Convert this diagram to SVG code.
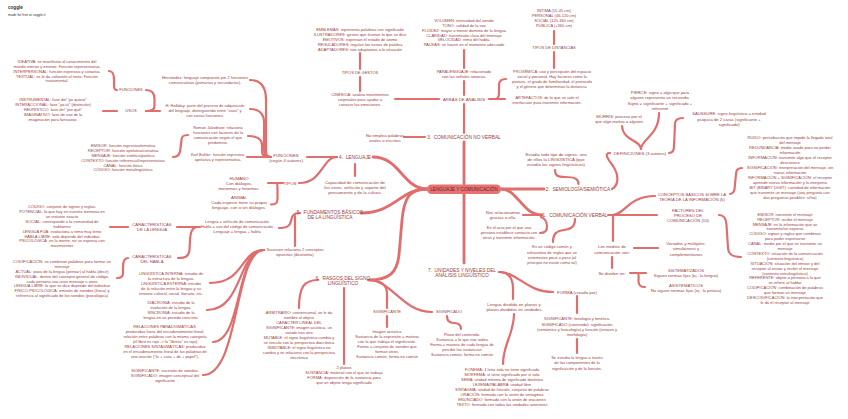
<svg xmlns="http://www.w3.org/2000/svg" width="848" height="419" viewBox="0 0 848 419">
<style>
text{font-family:"Liberation Sans",Arial,sans-serif;fill:#9a4043;text-anchor:middle}
.s{font-size:4px}
.m{font-size:4.3px}
.k{font-size:4.2px}
.l{font-size:4.8px}
.c{fill:none;stroke:#e26d6d;stroke-width:2.2;stroke-linecap:round;stroke-linejoin:round}
.c1{stroke-width:2.8}
</style>
<rect width="848" height="419" fill="#ffffff"/>
<text x="8" y="9" style="font-size:4.6px;font-weight:bold;fill:#333;text-anchor:start">coggle</text>
<text x="8" y="16.2" style="font-size:3.4px;fill:#333;text-anchor:start">made for free at coggle.it</text>

<g id="connectors">
<path class="c c1" d="M464,184 L464,142"/>
<path class="c c1" d="M464,194 L464,263"/>
<path class="c c1" d="M427,189 C403,189 400,157 373,157"/>
<path class="c c1" d="M427,189 C400,189 395,213 361,213"/>
<path class="c c1" d="M427,189 C408,189 404,200 402,220 L399,255 C397,272 390,280 369,280"/>
<path class="c c1" d="M501,189 L544,189"/>
<path class="c c1" d="M501,189 C518,189 522,215 542,215"/>
<path class="c" d="M464,133 L464,104"/>
<path class="c" d="M464,95 L464,81"/>
<path class="c" d="M464,68 L464,50"/>
<path class="c" d="M404,137 L425,137"/>
<path class="c" d="M395,99 L439,99"/>
<path class="c" d="M360,91 L360,77"/>
<path class="c" d="M360,69 L360,53"/>
<path class="c" d="M554,31 L554,44"/>
<path class="c" d="M554,52 L554,68"/>
<path class="c" d="M489,99 L505,99"/>
<path class="c" d="M496,99 C499,98 499,95 499,90 L499,85 C499,81 501,79 506,79"/>
<path class="c" d="M337,157 L307,157"/>
<path class="c" d="M337,157 C322,157 323,183 299,183"/>
<path class="c" d="M355,164 L355,176"/>
<path class="c" d="M250,80 C262,80 266,88 266,100 L266,150 C266,155 267,157 271,157"/>
<path class="c" d="M250,109 C259,109 264,114 264,122 L264,150 C264,155 266,157 271,157"/>
<path class="c" d="M248,136 C256,136 262,139 262,145 L262,152 C262,156 265,157 271,157"/>
<path class="c" d="M247,157 L271,157"/>
<path class="c" d="M283,183 L268,183"/>
<path class="c" d="M276,183 C277.5,183 277.5,186 277.5,190 L277.5,199 C277.5,203 276,204.5 271,204.5"/>
<path class="c" d="M173,157 C178.5,157 180.5,154 180.5,148 L181.5,140 C181.5,136.5 183,135 188,135"/>
<path class="c" d="M146,111 L160,111"/>
<path class="c" d="M103,111 L117,111"/>
<path class="c" d="M146,90 C152,90 154.5,93 154.5,99 L154.5,106 C154.5,109.5 152,111 146,111"/>
<path class="c" d="M109,71 C113,71 114,74 114,80 L114,86 C114,89 115,90 117,90"/>
<path class="c" d="M300,213 C293,213 292,216 291,221 C290,226 287,228 279,228"/>
<path class="c" d="M295,216 L295,246"/>
<path class="c" d="M177,227 L200,227"/>
<path class="c" d="M110,227 L128,227"/>
<path class="c" d="M198,227 C192,227 190.5,232 190,240 L189.5,250 C189,256 186,258 178,258"/>
<path class="c" d="M128,258 C124.5,258 123,261 123,267 L123,273 C123,276.5 121.5,278 117,278"/>
<path class="c" d="M264,250 C240,250 245,283 210,283"/>
<path class="c" d="M264,250 C238,250 243,310 207,310"/>
<path class="c" d="M264,250 C236,250 242,342 213,342"/>
<path class="c" d="M264,250 C234,250 240,375 203,375"/>
<path class="c" d="M318,280 C304,280 299,287 299,308"/>
<path class="c" d="M344,288 L344,364"/>
<path class="c" d="M368,280 C381,280 387,284 387,294 L387,308"/>
<path class="c" d="M368,280 C392,280 402,312 432,312"/>
<path class="c" d="M387,316 L387,327"/>
<path class="c" d="M447,316 C447,321 449,323 454,323 C459,323 461,325 461,329"/>
<path class="c" d="M499,272 C518,272 526,292 553,292"/>
<path class="c" d="M499,272 C509,272 513,279 513,289 L513,299"/>
<path class="c" d="M514,314 C514,334 503,344 503,364"/>
<path class="c" d="M577,296 L577,313"/>
<path class="c" d="M577,339 L577,353"/>
<path class="c" d="M555,170 C555,176 558,177 565,177 C575,177 578.5,179 578.5,184"/>
<path class="c" d="M612,189 C619,185 619,175 613,166 C607,158 604,153 610,153"/>
<path class="c" d="M641,149 C641,140 623,141 622,126"/>
<path class="c" d="M641,149 C641,139 659,136 659,113"/>
<path class="c" d="M669,153 C673,153 674,150 674,146 L675,124 C675,120 677,118 683,118"/>
<path class="c" d="M523,215 L541,215"/>
<path class="c" d="M541,217 C546,219 547,222 547,227 C547,231 545,233 540,233"/>
<path class="c" d="M575,219 C575,227 571,229 564,230 C556,231 553,234 553,242"/>
<path class="c" d="M608,215 L657,215"/>
<path class="c" d="M612,215 C625,215 628,196 655,196"/>
<path class="c" d="M613,216 L613,241"/>
<path class="c" d="M634,248 L658,248"/>
<path class="c" d="M612,257 L612,268"/>
<path class="c" d="M630,273 L646,273"/>
<path class="c" d="M638,273 C639,274 638.5,277 638.5,281 C638.5,285 640,287 645,287"/>
<path class="c" d="M719,215 C724,215 726,218 726.5,225 L728,248 C728.5,255 733,257 741,257"/>
<path class="c" d="M730,194 C734,194 735,190 735,184 L736,174 C736,169.5 738,168 742,168"/>
</g>

<g id="root">
<rect x="427" y="184.5" width="74" height="9.5" rx="4.5" fill="#e57373"/>
<text x="464" y="190.7" style="font-size:4.7px;fill:#6e1f1f">LENGUAJE Y COMUNICACIÓN</text>
</g>

<g id="n3"><text class="l" x="464" y="138.7">3.&#160; COMUNICACIÓN NO VERBAL</text></g>
<g id="n4"><text class="l" x="355" y="158.7">4.&#160; LENGUAJE</text></g>
<g id="n5"><text class="l" x="330" y="213.7"><tspan x="330">5.&#160; FUNDAMENTOS BÁSICOS</tspan><tspan x="330" dy="5.2">DE LA LINGÜÍSTICA</tspan></text></g>
<g id="n6"><text class="l" x="343" y="279.7"><tspan x="343">6.&#160; RASGOS DEL SIGNO</tspan><tspan x="343" dy="5.2">LINGÜÍSTICO</tspan></text></g>
<g id="n7"><text class="l" x="462" y="271.7"><tspan x="462">7.&#160; UNIDADES Y NIVELES DEL</tspan><tspan x="462" dy="5.6">ANÁLISIS LINGÜÍSTICO</tspan></text></g>
<g id="n2"><text class="l" x="578" y="190.7">2.&#160; SEMIOLOGÍA/SEMIÓTICA</text></g>
<g id="n1"><text class="l" x="575" y="216.7">1.&#160; COMUNICACIÓN VERBAL</text></g>

<g id="n-ideativa"><text class="s" y="63.4"><tspan x="57">IDEATIVA: se manifiesta el conocimiento del</tspan><tspan x="57" dy="4.7">mundo interior y exterior. Función representativa.</tspan><tspan x="57" dy="4.7">INTERPERSONAL: función expresiva y conativa.</tspan><tspan x="57" dy="4.7">TEXTUAL: se le da cohesión al texto. Función</tspan><tspan x="57" dy="4.7">instrumental.</tspan></text></g>
<g id="n-instrumental"><text class="s" y="101.4"><tspan x="53">INSTRUMENTAL: fase del "yo quiero"</tspan><tspan x="53" dy="4.9">INTERACCIONAL: fase "yo-tú" (distinción)</tspan><tspan x="53" dy="4.9">HEURÍSTICO: fase del "por qué"</tspan><tspan x="53" dy="4.9">IMAGINATIVO: fase de uso de la</tspan><tspan x="53" dy="4.9">imaginación para fantasear.</tspan></text></g>
<g id="n-funciones"><text class="s" x="131" y="91.4">FUNCIONES</text></g>
<g id="n-usos"><text class="s" x="131" y="112.4">USOS</text></g>
<g id="n-hernandez"><text class="s" y="79.4"><tspan x="205">Hernández: lenguaje compuesto por 2 funciones</tspan><tspan x="205" dy="5">comunicativas (primarias y secundarias).</tspan></text></g>
<g id="n-halliday"><text class="s" y="107.4"><tspan x="205">H. Halliday: parte del proceso de adquisición</tspan><tspan x="205" dy="5">del lenguaje, distinguiendo entre "usos" y</tspan><tspan x="205" dy="5">con varias funciones.</tspan></text></g>
<g id="n-jakobson"><text class="s" y="129.4"><tspan x="218">Roman Jakobson: relaciona</tspan><tspan x="218" dy="5">funciones con factores de la</tspan><tspan x="218" dy="5">comunicación según el que</tspan><tspan x="218" dy="5">predomine.</tspan></text></g>
<g id="n-buhler"><text class="s" y="156.4"><tspan x="218">Karl Bühler: función expresiva,</tspan><tspan x="218" dy="5">apelativa y representativa.</tspan></text></g>
<g id="n-emisor-l"><text class="s" y="147.4"><tspan x="123">EMISOR: función expresiva/emotiva</tspan><tspan x="123" dy="4.8">RECEPTOR: función apelativa/conativa</tspan><tspan x="123" dy="4.8">MENSAJE: función estética/poética</tspan><tspan x="123" dy="4.8">CONTEXTO: función referencial/representativa</tspan><tspan x="123" dy="4.8">CANAL: función fática</tspan><tspan x="123" dy="4.8">CÓDIGO: función metalingüística</tspan></text></g>
<g id="n-funciones4"><text class="m" y="156.5"><tspan x="286">FUNCIONES</tspan><tspan x="286" dy="5">(según 4 autores)</tspan></text></g>
<g id="n-tipos"><text class="m" x="290" y="184.5">TIPOS</text></g>
<g id="n-humano"><text class="m" y="179.5"><tspan x="239">HUMANO</tspan><tspan x="239" dy="5">Con diálogos,</tspan><tspan x="239" dy="5">monemas y fonemas.</tspan></text></g>
<g id="n-animal"><text class="m" y="198.5"><tspan x="239">ANIMAL</tspan><tspan x="239" dy="5">Cada especie tiene su propio</tspan><tspan x="239" dy="5">lenguaje, con o sin diálogos.</tspan></text></g>
<g id="n-capacidad"><text class="m" y="183.5"><tspan x="355">Capacidad de comunicación de</tspan><tspan x="355" dy="5">los seres, vehículo y soporte del</tspan><tspan x="355" dy="5">pensamiento y de la cultura.</tspan></text></g>

<g id="n-noemplea"><text class="m" y="136.5"><tspan x="385">No emplea palabras</tspan><tspan x="385" dy="5">orales o escritas</tspan></text></g>
<g id="n-areas"><text class="m" x="464" y="100.5">ÁREAS DE ANÁLISIS</text></g>
<g id="n-cinesica"><text class="s" y="96.4"><tspan x="360">CINÉSICA: analiza movimientos</tspan><tspan x="360" dy="5">corporales para ayudar a</tspan><tspan x="360" dy="5">conocer las emociones.</tspan></text></g>
<g id="n-tiposgestos"><text class="s" x="360" y="74.4">TIPOS DE GESTOS</text></g>
<g id="n-emblemas"><text class="s" y="31.1"><tspan x="360">EMBLEMAS: representa palabras con significado</tspan><tspan x="360" dy="4.9">ILUSTRADORES: gestos que ilustran lo que se dice</tspan><tspan x="360" dy="4.9">EMOTIVOS: expresan el estado de ánimo</tspan><tspan x="360" dy="4.9">REGULADORES: regulan los turnos de palabra</tspan><tspan x="360" dy="4.9">ADAPTADORES: nos adaptamos a la situación</tspan></text></g>
<g id="n-paralenguaje"><text class="s" y="73.4"><tspan x="464">PARALENGUAJE: relacionado</tspan><tspan x="464" dy="5">con las señales sonoras.</tspan></text></g>
<g id="n-volumen"><text class="s" y="22.1"><tspan x="464">VOLUMEN: intensidad del sonido</tspan><tspan x="464" dy="4.8">TONO: calidad de la voz</tspan><tspan x="464" dy="4.8">FLUIDEZ: mayor o menor dominio de la lengua</tspan><tspan x="464" dy="4.8">CLARIDAD: transmisión clara del mensaje</tspan><tspan x="464" dy="4.8">VELOCIDAD: ritmo del habla.</tspan><tspan x="464" dy="4.8">PAUSAS: se hacen en el momento adecuado</tspan></text></g>
<g id="n-intima"><text class="s" y="12.1"><tspan x="554">ÍNTIMA (15-45 cm)</tspan><tspan x="554" dy="4.9">PERSONAL (46-120 cm)</tspan><tspan x="554" dy="4.9">SOCIAL (120-360 cm)</tspan><tspan x="554" dy="4.9">PÚBLICA (+360 cm)</tspan></text></g>
<g id="n-tiposdist"><text class="s" x="554" y="49.4">TIPOS DE DISTANCIAS</text></g>
<g id="n-proxemica"><text class="s" y="73.1"><tspan x="552">PROXÉMICA: uso y percepción del espacio</tspan><tspan x="552" dy="5">social y personal. Hay factores como la</tspan><tspan x="552" dy="5">postura, el grado de familiaridad, el protocolo</tspan><tspan x="552" dy="5">y el género que determinan la distancia.</tspan></text></g>
<g id="n-artefactos"><text class="s" y="99.4"><tspan x="547">ARTEFACTOS: de lo que se vale el</tspan><tspan x="547" dy="5">interlocutor para transmitir información.</tspan></text></g>

<g id="n-estudia"><text class="m" y="155.5"><tspan x="556">Estudia todo tipo de signos: uno</tspan><tspan x="556" dy="5.2">de ellos la LINGÜÍSTICA (que</tspan><tspan x="556" dy="5.2">estudia los signos lingüísticos)</tspan></text></g>
<g id="n-definiciones"><text class="m" x="640" y="154.5">DEFINICIONES (3 autores)</text></g>
<g id="n-pierce"><text class="k" y="93.5"><tspan x="660">PIERCE: signo = algo que para</tspan><tspan x="660" dy="5.6">alguien representa un recuerdo.</tspan><tspan x="660" dy="5.6">Signo = significante + significado +</tspan><tspan x="660" dy="5.6">referente</tspan></text></g>
<g id="n-morris"><text class="k" y="117.5"><tspan x="619">MORRIS: proceso por el</tspan><tspan x="619" dy="5.6">que algo motiva a alguien</tspan></text></g>
<g id="n-saussure"><text class="k" y="114.8"><tspan x="729">SAUSSURE: signo lingüístico = entidad</tspan><tspan x="729" dy="5.7">psíquica de 2 caras (significante +</tspan><tspan x="729" dy="5.7">significado)</tspan></text></g>

<g id="n-conceptos"><text class="k" y="195.5"><tspan x="692">CONCEPTOS BÁSICOS SOBRE LA</tspan><tspan x="692" dy="5">TEORÍA DE LA INFORMACIÓN (6)</tspan></text></g>
<g id="n-ruido"><text class="s" y="138.8"><tspan x="790">RUIDO: perturbación que impide la llegada total</tspan><tspan x="790" dy="5.05">del mensaje</tspan><tspan x="790" dy="5.05">REDUNDANCIA: medio usado para no perder</tspan><tspan x="790" dy="5.05">información</tspan><tspan x="790" dy="5.05">INFORMACIÓN: transmite algo que el receptor</tspan><tspan x="790" dy="5.05">desconoce</tspan><tspan x="790" dy="5.05">SIGNIFICACIÓN: interpretación del mensaje, sin</tspan><tspan x="790" dy="5.05">nueva información</tspan><tspan x="790" dy="5.05">INFORMACIÓN + SIGNIFICACIÓN: el receptor</tspan><tspan x="790" dy="5.05">aprende nueva información y la interpreta</tspan><tspan x="790" dy="5.05">BIT (BINARY DIGIT): cantidad de información</tspan><tspan x="790" dy="5.05">que transmite un mensaje (una pregunta con</tspan><tspan x="790" dy="5.05">dos preguntas posibles: sí/no)</tspan></text></g>
<g id="n-factores"><text class="k" y="211.5"><tspan x="688">FACTORES DEL</tspan><tspan x="688" dy="5">PROCESO DE</tspan><tspan x="688" dy="5">COMUNICACIÓN (10)</tspan></text></g>
<g id="n-emisor-r"><text class="s" y="215.7"><tspan x="785">EMISOR: transmite el mensaje</tspan><tspan x="785" dy="4.9">RECEPTOR: recibe el mensaje</tspan><tspan x="785" dy="4.9">MENSAJE: es la información que se</tspan><tspan x="785" dy="4.9">transmite/se expresa</tspan><tspan x="785" dy="4.9">CÓDIGO: signos y reglas que combinan</tspan><tspan x="785" dy="4.9">para poder expresarse</tspan><tspan x="785" dy="4.9">CANAL: medio por el que se transmite un</tspan><tspan x="785" dy="4.9">mensaje</tspan><tspan x="785" dy="4.9">CONTEXTO: situación de la comunicación</tspan><tspan x="785" dy="4.9">(contexto lingüístico)</tspan><tspan x="785" dy="4.9">SITUACIÓN: situación del emisor y del</tspan><tspan x="785" dy="4.9">receptor al enviar y recibir el mensaje</tspan><tspan x="785" dy="4.9">(contexto extralingüístico)</tspan><tspan x="785" dy="4.9">REFERENTE: objeto o persona a la que</tspan><tspan x="785" dy="4.9">se refiere al hablar</tspan><tspan x="785" dy="4.9">CODIFICACIÓN: combinación de palabras</tspan><tspan x="785" dy="4.9">que forman un mensaje</tspan><tspan x="785" dy="4.9">DESCODIFICACIÓN: la interpretación que</tspan><tspan x="785" dy="4.9">le da el receptor al mensaje</tspan></text></g>
<g id="n-nos"><text class="m" y="213.9"><tspan x="503">Nos relacionamos</tspan><tspan x="503" dy="5">gracias a ella.</tspan></text></g>
<g id="n-acto"><text class="s" y="228.9"><tspan x="509">Es el acto por el que una</tspan><tspan x="509" dy="5">persona establece contacto con</tspan><tspan x="509" dy="5">otras y transmite información.</tspan></text></g>
<g id="n-codigo-comun"><text class="s" y="248.4"><tspan x="552">Es un código común y</tspan><tspan x="552" dy="5.1">exhaustivo de reglas que se</tspan><tspan x="552" dy="5.1">sistematiza poco a poco (al</tspan><tspan x="552" dy="5.1">principio no existe como tal)</tspan></text></g>
<g id="n-medios"><text class="m" y="248"><tspan x="612">Los medios de</tspan><tspan x="612" dy="5.5">comunicación son:</tspan></text></g>
<g id="n-variados"><text class="m" y="244.8"><tspan x="686">Variados y múltiples;</tspan><tspan x="686" dy="5.4">simultáneos y</tspan><tspan x="686" dy="5.4">complementarios</tspan></text></g>
<g id="n-dividen"><text class="m" x="612" y="274.5">Se dividen en:</text></g>
<g id="n-sist"><text class="k" y="271.5"><tspan x="686">SISTEMATIZADOS</tspan><tspan x="686" dy="5.6">Siguen normas fijas (ej.: la lengua)</tspan></text></g>
<g id="n-asist"><text class="k" y="286.5"><tspan x="686">ASISTEMÁTICOS</tspan><tspan x="686" dy="5.2">No siguen normas fijas (ej.: la pintura)</tspan></text></g>

<g id="n-lengua-vehiculo"><text class="s" y="223.4"><tspan x="237">Lengua = vehículo de comunicación</tspan><tspan x="237" dy="5">Habla = uso del código de comunicación</tspan><tspan x="237" dy="5">Lenguaje = lengua + habla</tspan></text></g>
<g id="n-caract-lengua"><text class="k" y="225.5"><tspan x="152">CARACTERÍSTICAS</tspan><tspan x="152" dy="5">DE LA LENGUA</tspan></text></g>
<g id="n-caract-habla"><text class="k" y="257.5"><tspan x="152">CARACTERÍSTICAS</tspan><tspan x="152" dy="5">DEL HABLA</tspan></text></g>
<g id="n-codigo"><text class="s" y="208.1"><tspan x="62">CÓDIGO: conjunto de signos y reglas.</tspan><tspan x="62" dy="4.9">POTENCIAL: lo que hay en nuestra memoria en</tspan><tspan x="62" dy="4.9">un instante exacto</tspan><tspan x="62" dy="4.9">SOCIAL: corresponde a la comunidad de</tspan><tspan x="62" dy="4.9">hablantes</tspan><tspan x="62" dy="4.9">LENGUA FIJA: evoluciona a ritmo muy lento</tspan><tspan x="62" dy="4.9">HABLA LIBRE: solo depende del individuo</tspan><tspan x="62" dy="4.9">PSICOLÓGICA: en la mente, no se expresa con</tspan><tspan x="62" dy="4.9">movimientos</tspan></text></g>
<g id="n-codificacion"><text class="s" y="263.1"><tspan x="62">CODIFICACIÓN: se combinan palabras para formar un</tspan><tspan x="62" dy="4.85">mensaje</tspan><tspan x="62" dy="4.85">ACTUAL: pasa de la lengua (pensar) al habla (decir)</tspan><tspan x="62" dy="4.85">INDIVIDUAL: dentro del concepto general de código,</tspan><tspan x="62" dy="4.85">cada persona usa unos mensaje u otros</tspan><tspan x="62" dy="4.85">LENGUA LIBRE: lo que se dice depende del individuo</tspan><tspan x="62" dy="4.85">FÍSICO-PSICOLÓGICA: emisión de sonidos (físico) y</tspan><tspan x="62" dy="4.85">referencia al significado de los sonidos (psicológica)</tspan></text></g>
<g id="n-saussure-rel"><text class="s" y="251.4"><tspan x="295">Saussure relaciona 2 conceptos</tspan><tspan x="295" dy="5">opuestos (dicotomía)</tspan></text></g>
<g id="n-linguistica"><text class="s" y="274.9"><tspan x="171">LINGÜÍSTICA INTERNA: estudio de</tspan><tspan x="171" dy="5">la estructura de la lengua.</tspan><tspan x="171" dy="5">LINGÜÍSTICA EXTERNA: estudio</tspan><tspan x="171" dy="5">de la relación entre la lengua y su</tspan><tspan x="171" dy="5">entorno cultural, social, literario, etc.</tspan></text></g>
<g id="n-diacronia"><text class="s" y="304.4"><tspan x="171">DIACRONÍA: estudio de la</tspan><tspan x="171" dy="4.8">evolución de la lengua.</tspan><tspan x="171" dy="4.8">SINCRONÍA: estudio de la</tspan><tspan x="171" dy="4.8">lengua en un periodo concreto.</tspan></text></g>
<g id="n-relaciones"><text class="s" y="328.4"><tspan x="165">RELACIONES PARADIGMÁTICAS:</tspan><tspan x="165" dy="4.85">producidas fuera del encadenamiento lineal;</tspan><tspan x="165" dy="4.85">relación entre palabras con la misma categoría</tspan><tspan x="165" dy="4.85">(el libro es rojo -&gt; la "libreta" es roja)</tspan><tspan x="165" dy="4.85">RELACIONES SINTAGMÁTICAS: producidas</tspan><tspan x="165" dy="4.85">en el encadenamiento lineal de las palabras de</tspan><tspan x="165" dy="4.85">una oración ("la + casa + de + papel").</tspan></text></g>
<g id="n-significante-l"><text class="s" y="372.4"><tspan x="165">SIGNIFICANTE: sucesión de sonidos.</tspan><tspan x="165" dy="5">SIGNIFICADO: imagen conceptual del</tspan><tspan x="165" dy="5">significante</tspan></text></g>

<g id="n-arbitrario"><text class="s" y="314.4"><tspan x="299">ARBITRARIO: convencional, se le da</tspan><tspan x="299" dy="4.9">nombre al objeto</tspan><tspan x="299" dy="4.9">CARÁCTER LINEAL DEL</tspan><tspan x="299" dy="4.9">SIGNIFICANTE: imagen acústica, un</tspan><tspan x="299" dy="4.9">sonido tras otro</tspan><tspan x="299" dy="4.9">MUTABLE: el signo lingüístico cambia y</tspan><tspan x="299" dy="4.9">se vincula con la perspectiva diacrónica</tspan><tspan x="299" dy="4.9">INMUTABLE: el signo lingüístico no</tspan><tspan x="299" dy="4.9">cambia y se relaciona con la perspectiva</tspan><tspan x="299" dy="4.9">sincrónica</tspan></text></g>
<g id="n-planos"><text class="s" y="369.4"><tspan x="344">2 planos</tspan><tspan x="344" dy="5">SUSTANCIA: material con el que se trabaja</tspan><tspan x="344" dy="5">FORMA: disposición de la sustancia para</tspan><tspan x="344" dy="5">que un objeto tenga significado</tspan></text></g>
<g id="n-significante"><text class="s" x="387" y="313.4">SIGNIFICANTE</text></g>
<g id="n-imagen"><text class="s" y="333.4"><tspan x="387">Imagen acústica</tspan><tspan x="387" dy="5">Sustancia de la expresión = materia</tspan><tspan x="387" dy="5">con la que trabaja el significante.</tspan><tspan x="387" dy="5">Forma = conjunto de sonidos que</tspan><tspan x="387" dy="5">forman otros.</tspan><tspan x="387" dy="5">Sustancia común, forma no común</tspan></text></g>
<g id="n-significado"><text class="s" x="449" y="313.4">SIGNIFICADO</text></g>
<g id="n-plano"><text class="s" y="335.7"><tspan x="462">Plano del contenido.</tspan><tspan x="462" dy="5">Sustancia = lo que nos rodea</tspan><tspan x="462" dy="5">Forma = manera de cada lengua de</tspan><tspan x="462" dy="5">percibir las sustancias</tspan><tspan x="462" dy="5">Sustancia común, forma no común</tspan></text></g>

<g id="n-lengua-dividida"><text class="m" y="305.5"><tspan x="514">Lengua dividida en planos y</tspan><tspan x="514" dy="5.3">planos divididos en unidades</tspan></text></g>
<g id="n-fonema"><text class="s" y="371.4"><tspan x="502">FONEMA: 1 letra sola no tiene significado</tspan><tspan x="502" dy="5">MORFEMA: sí tiene significado por sí solo</tspan><tspan x="502" dy="5">SEMA: unidad mínima de significado distintiva</tspan><tspan x="502" dy="5">LEXEMA/PALABRA: unidad libre</tspan><tspan x="502" dy="5">SINTAGMA: unidad de función, conjunto de palabras</tspan><tspan x="502" dy="5">ORACIÓN: formada con la unión de sintagmas</tspan><tspan x="502" dy="5">ENUNCIADO: formado con la unión de oraciones</tspan><tspan x="502" dy="5">TEXTO: formado con todas las unidades anteriores</tspan></text></g>
<g id="n-forma"><text class="m" x="577" y="293.5">FORMA (creada por)</text></g>
<g id="n-significante-fon"><text class="s" y="320.4"><tspan x="577">SIGNIFICANTE: fonología y fonética.</tspan><tspan x="577" dy="5.3">SIGNIFICADO (contenido): significación</tspan><tspan x="577" dy="5.3">(semántica y lexicología) y función (sintaxis y</tspan><tspan x="577" dy="5.3">morfología)</tspan></text></g>
<g id="n-se-estudia"><text class="s" y="359.1"><tspan x="577">Se estudia la lengua a través</tspan><tspan x="577" dy="5.3">de los componentes de la</tspan><tspan x="577" dy="5.3">significación y de la función.</tspan></text></g>
</svg>
